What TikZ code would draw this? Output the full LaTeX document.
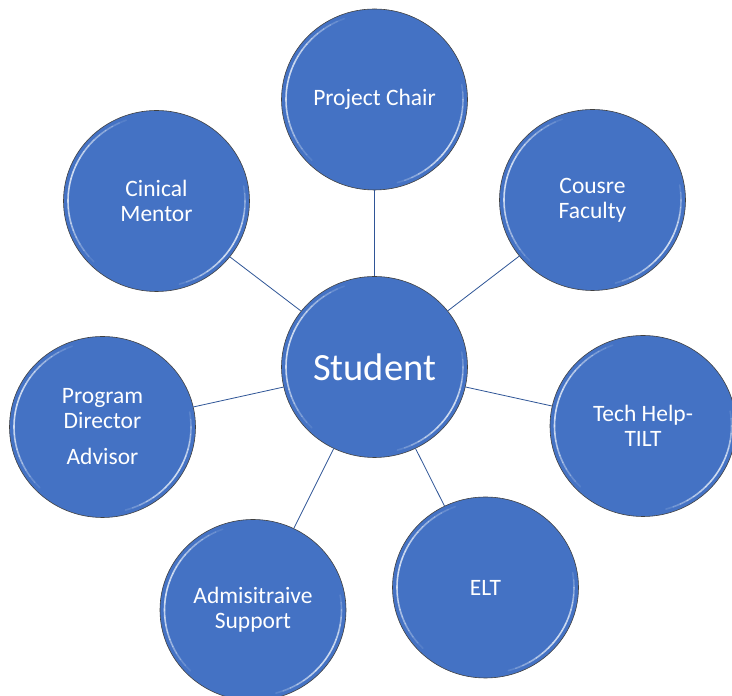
\documentclass[tikz,border=0pt]{standalone}
\usepackage{fontspec}
\setmainfont{Carlito}
\usetikzlibrary{shapes.geometric,calc}
\definecolor{bubble}{HTML}{4472C4}
\definecolor{connc}{HTML}{2F5597}
\definecolor{glintc}{HTML}{DCE6F5}
\tikzset{
  bubble/.style={ellipse, fill=bubble, draw=black!75, line width=0.6pt,
    minimum width=186pt, minimum height=181pt, inner sep=0pt,
    text=white, align=center, font=\fontsize{23.5}{25}\selectfont},
  bigbubble/.style={bubble, font=\fontsize{38.5}{41}\selectfont},
  conn/.style={draw=connc, line width=0.8pt},
  glint/.style={draw=glintc, line width=1.6pt, line cap=round}
}
\newcommand{\glint}[1]{%
  \foreach \a in {105,110,...,220}{%
    \pgfmathsetmacro\op{0.9*sin((\a-105)/120*180)}%
    \draw[glint, opacity=\op] ($(#1.center)+(\a:88.5pt and 86pt)$)
      arc[start angle=\a, delta angle=5, x radius=88.5pt, y radius=86pt];}%
  \foreach \a in {-80,-75,...,5}{%
    \pgfmathsetmacro\op{0.9*sin((\a+80)/90*180)}%
    \draw[glint, opacity=\op] ($(#1.center)+(\a:88.5pt and 86pt)$)
      arc[start angle=\a, delta angle=5, x radius=88.5pt, y radius=86pt];}%
}
\begin{document}
\begin{tikzpicture}[x=1pt,y=1pt]
\useasboundingbox (0,0) rectangle (732,696);
\fill[white] (0,0) rectangle (732,696);
\node[bigbubble] (S)  at (374.5,329)   {Student};
\node[bubble]    (PC) at (374.5,596.5) {Project Chair};
\node[bubble]    (CF) at (592.5,496)   {Cousre\\Faculty};
\node[bubble]    (TH) at (643,270)     {Tech Help-\\TILT};
\node[bubble]    (EL) at (485.5,108.5) {ELT};
\node[bubble]    (AS) at (253,86)      {Admisitraive\\Support};
\node[bubble]    (PD) at (102.5,269)   {Program\\Director\\[11pt]Advisor};
\node[bubble]    (CM) at (156.5,495)   {Cinical\\Mentor};
\foreach \n in {S,PC,CF,TH,EL,AS,PD,CM}{\glint{\n}}
\foreach \n in {PC,CF,TH,EL,AS,PD,CM}{\draw[conn] (S) -- (\n);}
\end{tikzpicture}
\end{document}
